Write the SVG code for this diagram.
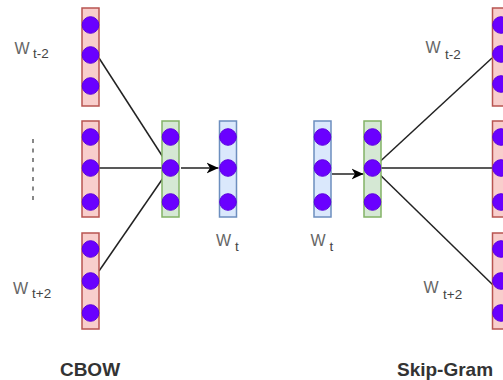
<svg xmlns="http://www.w3.org/2000/svg" width="503" height="380" viewBox="0 0 503 380">
<defs>
<style>
.red{fill:#f8cecc;stroke:#b85450;stroke-width:1.5}
.green{fill:#d5e8d4;stroke:#82b366;stroke-width:1.5}
.blue{fill:#dae8fc;stroke:#6c8ebf;stroke-width:1.5}
.n{fill:#6a00ff;stroke:#5a00dd;stroke-width:1}
.edge{stroke:#222;stroke-width:1.5;fill:none}
.w{font-family:"Liberation Sans",Arial,sans-serif;font-size:16px;fill:#666}
.s{font-family:"Liberation Sans",Arial,sans-serif;font-size:13.5px;fill:#444}
.title{font-family:"Liberation Sans",Arial,sans-serif;font-size:19px;font-weight:bold;fill:#333}
</style>
<marker id="arr" markerWidth="13" markerHeight="12" refX="12" refY="6" orient="auto" markerUnits="userSpaceOnUse">
<path d="M0,0.5 L12,6 L0,11.5 L3.5,6 Z" fill="#000"/>
</marker>
</defs>
<rect width="503" height="380" fill="#fff"/>
<g id="connectors">
<line class="edge" x1="99" y1="58" x2="170" y2="168"/>
<line class="edge" x1="99" y1="168" x2="170" y2="168"/>
<line class="edge" x1="99" y1="271" x2="170" y2="168"/>
<line class="edge" x1="181" y1="168" x2="218.5" y2="168" marker-end="url(#arr)"/>
<line class="edge" x1="332" y1="174" x2="363.5" y2="174" marker-end="url(#arr)"/>
<line class="edge" x1="373" y1="168" x2="492" y2="58"/>
<line class="edge" x1="373" y1="168" x2="492" y2="168"/>
<line class="edge" x1="373" y1="168" x2="494" y2="286"/>
<line x1="33" y1="139" x2="33" y2="201" stroke="#888" stroke-width="2" stroke-dasharray="4 5.5"/>
</g>
<g id="cbow-in1">
<rect class="red" x="82" y="8" width="17" height="98"/>
<circle class="n" cx="90.5" cy="25" r="8.3"/><circle class="n" cx="90.5" cy="55" r="8.3"/><circle class="n" cx="90.5" cy="86" r="8.3"/>
</g>
<g id="cbow-in2">
<rect class="red" x="82" y="121" width="17" height="96"/>
<circle class="n" cx="90.5" cy="137" r="8.3"/><circle class="n" cx="90.5" cy="168" r="8.3"/><circle class="n" cx="90.5" cy="202" r="8.3"/>
</g>
<g id="cbow-in3">
<rect class="red" x="82" y="233" width="17" height="96"/>
<circle class="n" cx="90.5" cy="249" r="8.3"/><circle class="n" cx="90.5" cy="281" r="8.3"/><circle class="n" cx="90.5" cy="313" r="8.3"/>
</g>
<g id="cbow-hidden">
<rect class="green" x="162" y="121" width="17" height="96"/>
<circle class="n" cx="170.5" cy="137" r="8.3"/><circle class="n" cx="170.5" cy="168" r="8.3"/><circle class="n" cx="170.5" cy="202" r="8.3"/>
</g>
<g id="cbow-out">
<rect class="blue" x="219.5" y="121" width="17" height="96"/>
<circle class="n" cx="228" cy="137" r="8.3"/><circle class="n" cx="228" cy="168" r="8.3"/><circle class="n" cx="228" cy="202" r="8.3"/>
</g>
<g id="sg-in">
<rect class="blue" x="314" y="121" width="17" height="96"/>
<circle class="n" cx="322.5" cy="137" r="8.3"/><circle class="n" cx="322.5" cy="168" r="8.3"/><circle class="n" cx="322.5" cy="202" r="8.3"/>
</g>
<g id="sg-hidden">
<rect class="green" x="364" y="121" width="17" height="96"/>
<circle class="n" cx="372.5" cy="137" r="8.3"/><circle class="n" cx="372.5" cy="168" r="8.3"/><circle class="n" cx="372.5" cy="202" r="8.3"/>
</g>
<g id="sg-out1">
<rect class="red" x="492.5" y="8" width="17" height="98"/>
<circle class="n" cx="501" cy="25" r="8.3"/><circle class="n" cx="501" cy="54" r="8.3"/><circle class="n" cx="501" cy="84" r="8.3"/>
</g>
<g id="sg-out2">
<rect class="red" x="492.5" y="121" width="17" height="96"/>
<circle class="n" cx="501" cy="137" r="8.3"/><circle class="n" cx="501" cy="168" r="8.3"/><circle class="n" cx="501" cy="202" r="8.3"/>
</g>
<g id="sg-out3">
<rect class="red" x="492.5" y="233" width="17" height="96"/>
<circle class="n" cx="501" cy="249" r="8.3"/><circle class="n" cx="501" cy="281" r="8.3"/><circle class="n" cx="501" cy="313" r="8.3"/>
</g>
<g id="labels">
<text class="w" x="14.5" y="53.5">W</text><text class="s" x="33" y="57.5">t-2</text>
<text class="w" x="13" y="294">W</text><text class="s" x="32" y="297.5">t+2</text>
<text class="w" x="216" y="245.5">W</text><text class="s" x="235" y="251">t</text>
<text class="w" x="310.5" y="245.5">W</text><text class="s" x="329.5" y="251">t</text>
<text class="w" x="425.5" y="52.5">W</text><text class="s" x="445" y="58.5">t-2</text>
<text class="w" x="423.5" y="292.5">W</text><text class="s" x="443" y="298.5">t+2</text>
<text class="title" x="90" y="376" text-anchor="middle">CBOW</text>
<text class="title" x="445" y="376" text-anchor="middle">Skip-Gram</text>
</g>
</svg>
